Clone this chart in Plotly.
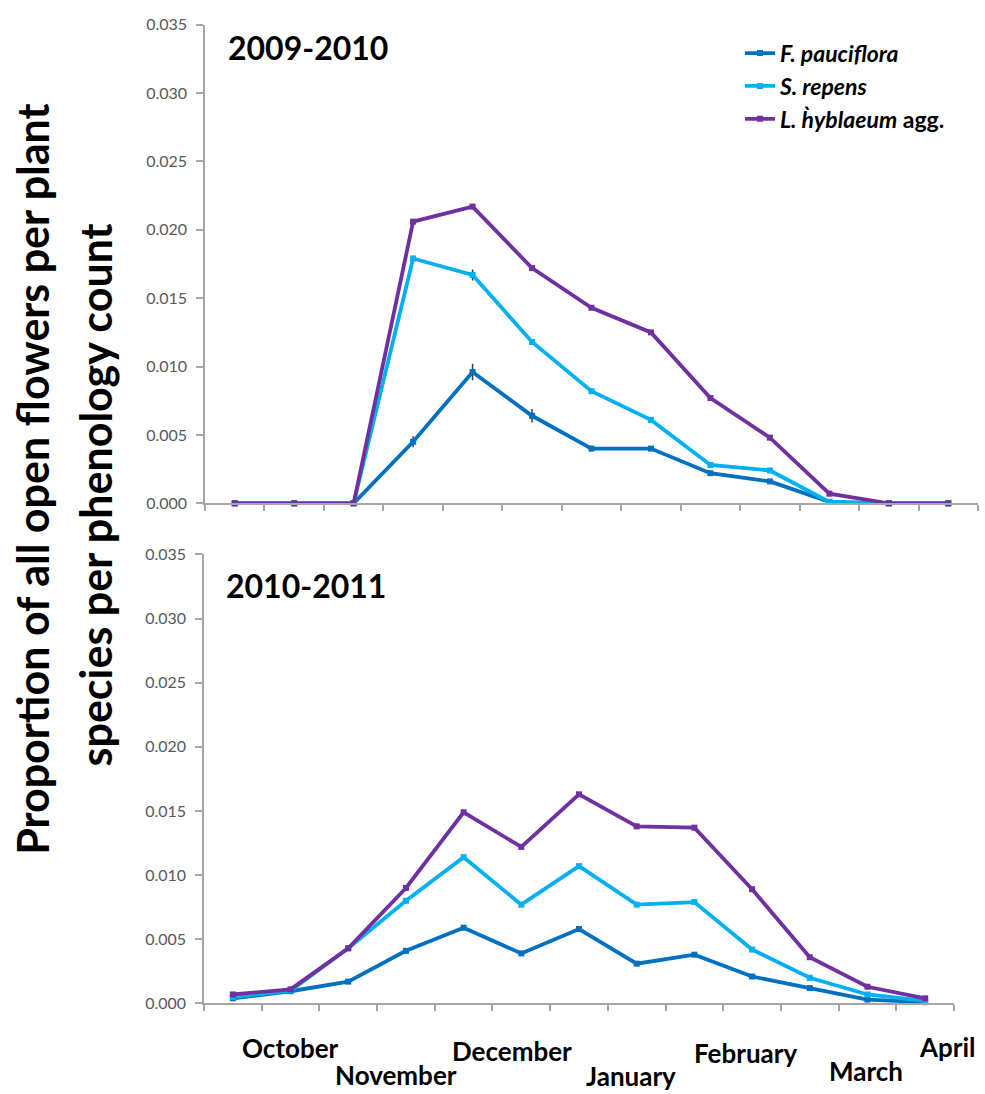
import plotly.graph_objects as go

# ---------------- data ----------------
counts = list(range(13))  # phenology count index (Oct -> Apr, roughly fortnightly)

months = ["October", "November", "December", "January", "February", "March", "April"]

series_names = [
    "<i><b>F. pauciflora</b></i>",
    "<i><b>S. repens</b></i>",
    "<i><b>L. h\u0300yblaeum</b></i><b> agg.</b>",
]

# 2009-2010
f_pauci_0910 = [0, 0, 0, 0.0045, 0.0096, 0.0064, 0.0040, 0.0040, 0.0022, 0.0016, 0.0001, 0, 0]
s_repens_0910 = [0, 0, 0, 0.0179, 0.0167, 0.0118, 0.0082, 0.0061, 0.0028, 0.0024, 0.0001, 0, 0]
l_hybl_0910 = [0, 0, 0, 0.0206, 0.0217, 0.0172, 0.0143, 0.0125, 0.0077, 0.0048, 0.0007, 0, 0]
f_pauci_err_0910 = [0, 0, 0, 0.0004, 0.0006, 0.0005, 0.0002, 0.0001, 0.0001, 0.0001, 0, 0, 0]
s_repens_err_0910 = [0, 0, 0, 0.0002, 0.0004, 0.0002, 0.0001, 0.0001, 0.0001, 0.0001, 0, 0, 0]

# 2010-2011
f_pauci_1011 = [0.0004, 0.00095, 0.0017, 0.0041, 0.0059, 0.0039, 0.0058, 0.0031, 0.0038, 0.0021, 0.0012, 0.0003, 0.0001]
s_repens_1011 = [0.0005, 0.0010, 0.0043, 0.0080, 0.0114, 0.0077, 0.0107, 0.0077, 0.0079, 0.0042, 0.0020, 0.0007, 0.0002]
l_hybl_1011 = [0.0007, 0.0011, 0.0043, 0.0090, 0.0149, 0.0122, 0.0163, 0.0138, 0.0137, 0.0089, 0.0036, 0.0013, 0.0004]

y_ticks = [0, 0.005, 0.010, 0.015, 0.020, 0.025, 0.030, 0.035]

# ---------------- styling / layout ----------------
W, H = 985, 1094
colors = ["#0070C0", "#00B0F0", "#7030A0"]
FONT = "Lato"

def px_x(p):
    return p / W

def px_y(p):
    return 1 - p / H

fig = go.Figure()

top = [f_pauci_0910, s_repens_0910, l_hybl_0910]
top_err = [f_pauci_err_0910, s_repens_err_0910, None]
bottom = [f_pauci_1011, s_repens_1011, l_hybl_1011]

for i, (name, col) in enumerate(zip(series_names, colors)):
    err = top_err[i]
    fig.add_trace(go.Scatter(
        x=counts, y=top[i], name=name, mode="lines+markers",
        line=dict(color=col, width=3.8),
        marker=dict(symbol="square", size=6, color=col),
        error_y=dict(type="data", array=err, visible=err is not None,
                     color="#3b3b55", thickness=1.5, width=0),
        xaxis="x", yaxis="y", cliponaxis=False,
        legendgroup=f"g{i}", showlegend=True,
    ))

for i, (name, col) in enumerate(zip(series_names, colors)):
    fig.add_trace(go.Scatter(
        x=counts, y=bottom[i], name=name, mode="lines+markers",
        line=dict(color=col, width=3.8),
        marker=dict(symbol="square", size=6, color=col),
        xaxis="x2", yaxis="y2", cliponaxis=False,
        legendgroup=f"g{i}", showlegend=False,
    ))

axis_common = dict(
    showline=True, linecolor="#a6a6a6", linewidth=1.5,
    ticks="outside", tickcolor="#a6a6a6", tickwidth=1.5,
    showgrid=False, zeroline=False,
)

xaxis_common = dict(
    axis_common, range=[-0.5, 12.5], tickmode="linear", tick0=-0.5, dtick=1,
    ticklen=6, showticklabels=False,
)

yaxis_common = dict(
    axis_common, range=[0, 0.0350001], tickmode="array", tickvals=y_ticks,
    tickformat=".3f", ticklen=7, ticklabelstandoff=6,
    tickfont=dict(family=FONT, size=16, color="#595959"),
)

fig.update_layout(
    width=W, height=H, autosize=False,
    margin=dict(l=0, r=0, t=0, b=0),
    paper_bgcolor="white", plot_bgcolor="white",
    font=dict(family=FONT, color="black"),
    xaxis=dict(xaxis_common, domain=[px_x(205), px_x(978)], anchor="y"),
    yaxis=dict(yaxis_common, domain=[px_y(502), px_y(15)], anchor="x"),
    xaxis2=dict(xaxis_common, domain=[px_x(204), px_x(954)], anchor="y2"),
    yaxis2=dict(yaxis_common, domain=[px_y(1011), px_y(554)], anchor="x2"),
    legend=dict(
        x=px_x(740), y=px_y(22), xanchor="left", yanchor="top",
        font=dict(family=FONT, size=23, color="black"),
        bgcolor="rgba(0,0,0,0)", tracegroupgap=0,
    ),
    showlegend=True,
)

annotations = []
# panel titles
annotations.append(dict(text="<b>2009-2010</b>", x=px_x(226), y=px_y(38),
                        xref="paper", yref="paper", xanchor="left", yanchor="middle",
                        showarrow=False, font=dict(family=FONT, size=32, color="black")))
annotations.append(dict(text="<b>2010-2011</b>", x=px_x(224), y=px_y(586),
                        xref="paper", yref="paper", xanchor="left", yanchor="middle",
                        showarrow=False, font=dict(family=FONT, size=32, color="black")))

# y-axis title (two lines)
annotations.append(dict(text="<b>Proportion of all open flowers per plant</b>",
                        x=px_x(33), y=px_y(478), xref="paper", yref="paper",
                        xanchor="center", yanchor="middle", textangle=-90,
                        showarrow=False, font=dict(family=FONT, size=43, color="black")))
annotations.append(dict(text="<b>species per phenology count</b>",
                        x=px_x(95), y=px_y(494), xref="paper", yref="paper",
                        xanchor="center", yanchor="middle", textangle=-90,
                        showarrow=False, font=dict(family=FONT, size=43, color="black")))

# staggered month labels on the bottom axis
month_x = [1.0, 2.83, 4.84, 6.9, 8.89, 10.97, 12.39]
month_y_px = [1056, 1084, 1059, 1085, 1061, 1080, 1055]
for m, mx, my in zip(months, month_x, month_y_px):
    annotations.append(dict(text=f"<b>{m}</b>", x=mx, y=px_y(my), xref="x2", yref="paper",
                            xanchor="center", yanchor="middle", showarrow=False,
                            font=dict(family=FONT, size=26, color="black")))

fig.update_layout(annotations=annotations)

fig.write_html("out.html")
